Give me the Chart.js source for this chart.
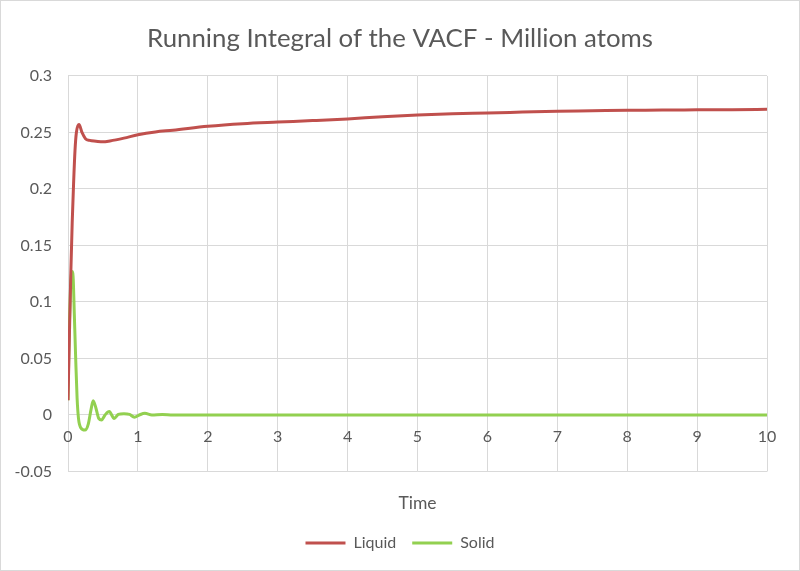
<!DOCTYPE html>
<html>
<head>
<meta charset="utf-8">
<script src="https://cdn.jsdelivr.net/npm/chart.js@4.4.1/dist/chart.umd.min.js"></script>
<style>
  html, body { margin: 0; padding: 0; background: #fff; }
  #wrap { width: 800px; height: 571px; position: relative; }
</style>
</head>
<body>
<div id="wrap"><canvas id="myChart"></canvas></div>
<script>
// Liquid series (time, running integral)
const liquidTime = [0, 0.02, 0.04, 0.06, 0.08, 0.1, 0.12, 0.157, 0.2, 0.25, 0.31, 0.4, 0.5, 0.6, 0.8, 1, 1.25, 1.5, 2, 2.5, 3, 3.5, 4, 4.5, 5, 5.5, 6, 6.5, 7, 7.5, 8, 8.5, 9, 9.5, 10];
const liquidValues = [0.013, 0.07, 0.125, 0.17, 0.205, 0.234, 0.25, 0.257, 0.25, 0.2445, 0.243, 0.2423, 0.2417, 0.2425, 0.245, 0.248, 0.2505, 0.252, 0.2555, 0.2578, 0.2592, 0.2605, 0.262, 0.264, 0.2655, 0.2665, 0.2672, 0.268, 0.2688, 0.2692, 0.2697, 0.2698, 0.27, 0.2702, 0.2705];

// Solid series
const solidTime = [0, 0.01, 0.02, 0.035, 0.05, 0.062, 0.075, 0.09, 0.11, 0.13, 0.15, 0.18, 0.243, 0.29, 0.33, 0.36, 0.4, 0.44, 0.48, 0.53, 0.59, 0.66, 0.72, 0.8, 0.88, 0.95, 1.02, 1.1, 1.2, 1.35, 1.5, 2, 3, 4, 5, 6, 7, 8, 9, 10];
const solidValues = [0.013, 0.05, 0.08, 0.11, 0.125, 0.127, 0.12, 0.09, 0.05, 0.015, -0.003, -0.011, -0.0133, -0.008, 0.005, 0.0127, 0.006, -0.003, -0.0044, 0, 0.003, -0.003, 0.0005, 0.0012, 0.0005, -0.002, 0, 0.0015, 0, 0.0005, 0, 0, 0, 0, 0, 0, 0, 0, 0, 0];

const yTicks = [0.3, 0.25, 0.2, 0.15, 0.1, 0.05, 0, -0.05];
const yTickLabels = ['0.3', '0.25', '0.2', '0.15', '0.1', '0.05', '0', '-0.05'];
const xTicks = [0, 1, 2, 3, 4, 5, 6, 7, 8, 9, 10];

const FONT = 'Lato, "Open Sans", sans-serif';
const GREY = '#595959';
const GRID = '#d9d9d9';

function toPoints(xs, ys) {
  const pts = [];
  for (let i = 0; i < xs.length; i++) {
    pts.push({ x: xs[i], y: ys[i] });
  }
  return pts;
}

const frame = {
  id: 'frame',
  beforeDraw(chart) {
    const c = chart.ctx;
    c.save();
    c.fillStyle = '#fff';
    c.fillRect(0, 0, chart.width, chart.height);
    c.strokeStyle = GRID;
    c.lineWidth = 1;
    c.strokeRect(0.5, 0.5, chart.width - 1, chart.height - 1);
    c.restore();
  }
};

const ctx = document.getElementById('myChart').getContext('2d');
const myChart = new Chart(ctx, {
  type: 'line',
  data: {
    datasets: [{
      label: 'Liquid',
      data: toPoints(liquidTime, liquidValues),
      borderColor: '#c0504d',
      backgroundColor: '#c0504d',
      borderWidth: 3,
      pointRadius: 0,
      cubicInterpolationMode: 'monotone'
    }, {
      label: 'Solid',
      data: toPoints(solidTime, solidValues),
      borderColor: '#92d050',
      backgroundColor: '#92d050',
      borderWidth: 3,
      pointRadius: 0,
      cubicInterpolationMode: 'monotone'
    }]
  },
  options: {
    responsive: true,
    maintainAspectRatio: false,
    animation: false,
    layout: { padding: { left: 0, right: 0, top: 0, bottom: 10 } },
    scales: {
      x: {
        type: 'linear',
        min: 0,
        max: 10,
        position: { y: 0 },
        afterBuildTicks(scale) { scale.ticks = xTicks.map(v => ({ value: v })); },
        grid: { color: GRID, drawTicks: false },
        border: { color: GRID },
        ticks: { color: GREY, font: { family: FONT, size: 16 }, padding: 12 }
      },
      x2: {
        type: 'linear',
        position: 'bottom',
        min: 0,
        max: 10,
        grid: { display: false, drawTicks: false },
        border: { display: false },
        ticks: { display: false },
        title: { display: true, text: 'Time', color: GREY, font: { family: FONT, size: 17.5 }, padding: { top: 21, bottom: 5.5 } }
      },
      y: {
        min: -0.05,
        max: 0.3,
        afterBuildTicks(scale) { scale.ticks = yTicks.map(v => ({ value: v })); },
        afterFit(scale) { scale.width = 68; },
        grid: { color: GRID, drawTicks: false },
        border: { display: false },
        ticks: {
          color: GREY,
          font: { family: FONT, size: 16 },
          padding: 16,
          callback: (v, i) => yTickLabels[i]
        }
      },
      // empty right margin so the title and legend stay centred on the page
      yRight: {
        position: 'right',
        min: -0.05,
        max: 0.3,
        afterFit(scale) { scale.width = 33; },
        grid: { display: false, drawTicks: false },
        border: { display: false },
        ticks: { display: false }
      }
    },
    plugins: {
      title: {
        display: true,
        text: 'Running Integral of the VACF - Million atoms',
        color: GREY,
        font: { family: FONT, size: 25.8, weight: 'normal' },
        padding: { top: 23, bottom: 22 }
      },
      legend: {
        position: 'bottom',
        labels: {
          color: GREY,
          font: { family: FONT, size: 16 },
          usePointStyle: true,
          pointStyle: 'line',
          pointStyleWidth: 40,
          padding: 16
        }
      },
      tooltip: { enabled: false }
    }
  },
  plugins: [frame]
});
</script>
</body>
</html>
